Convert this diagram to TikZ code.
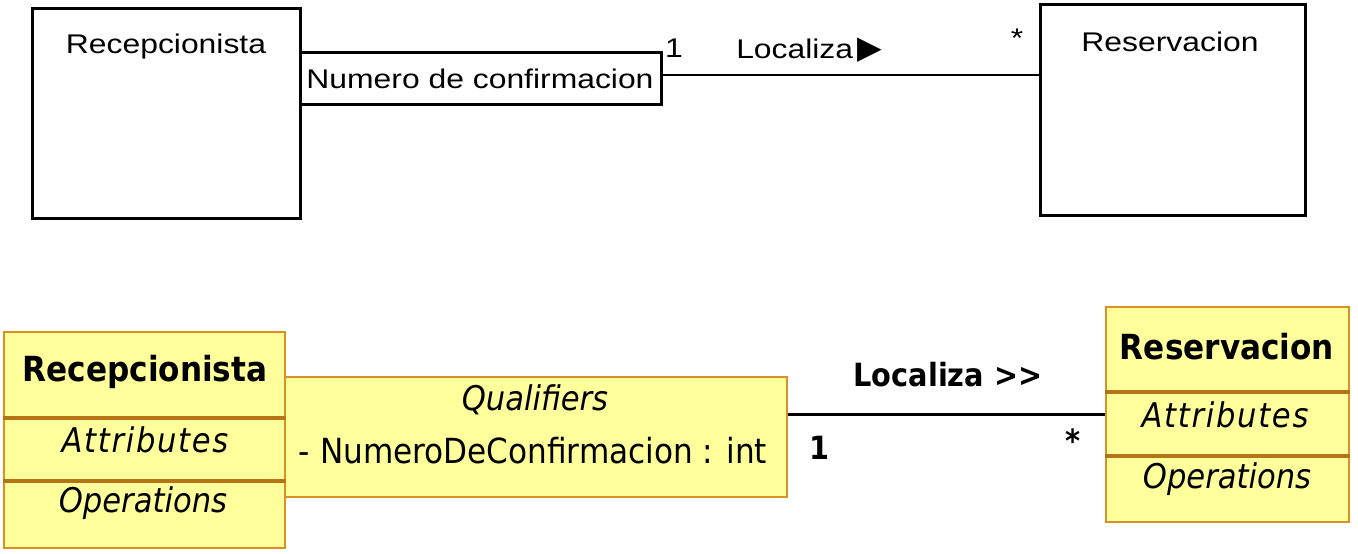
\documentclass[tikz,border=0pt]{standalone}
\usepackage{fontspec}
\usepackage{graphicx}
\setmainfont{Liberation Sans}
\newfontfamily\umlfont{DejaVu Sans Condensed}
\newfontfamily\umlspaced[LetterSpace=5]{DejaVu Sans Condensed}
\newfontfamily\symfont{DejaVu Sans}

\definecolor{umlfill}{RGB}{255,255,156}
\definecolor{umlline}{RGB}{217,145,38}
\definecolor{umldiv}{RGB}{181,117,20}

\newcommand{\scan}[1]{\scalebox{1.18}[1]{#1}}

\begin{document}
\begin{tikzpicture}[x=0.5pt,y=-0.5pt,
	oldbox/.style={draw=black,line width=1.5pt,inner sep=0pt},
	oldtext/.style={font=\fontsize{13.5}{16}\selectfont,inner sep=0pt},
	oldline/.style={draw=black,line width=1.3pt},
	umlbox/.style={draw=umlline,fill=umlfill,line width=0.8pt,inner sep=0pt},
	umldivider/.style={draw=umldiv,line width=1.6pt},
	umltitle/.style={font=\umlfont\bfseries\fontsize{17.3}{20}\selectfont,inner sep=0pt},
	umllabel/.style={font=\umlfont\bfseries\fontsize{16}{19}\selectfont,inner sep=0pt},
	umlitem/.style={font=\umlfont\itshape\fontsize{17}{20}\selectfont,inner sep=0pt},
	umlspace/.style={font=\umlspaced\itshape\fontsize{17}{20}\selectfont,inner sep=0pt},
	umltext/.style={font=\umlfont\fontsize{17.3}{20}\selectfont,inner sep=0pt},
	assoc/.style={draw=black,line width=1.4pt}]
	\useasboundingbox (0,0) rectangle (1358,553);

	% scanned notation
	\node[oldbox, minimum width=134pt, minimum height=105pt] (recA) at (166,113) {};
	\node[oldbox, minimum width=180.5pt, minimum height=26pt] (qualA) at (480.5,78) {};
	\node[oldtext] (qualAtext) at (480,79) {\scan{Numero de confirmacion}};
	\node[oldbox, minimum width=132.5pt, minimum height=105.5pt] (resA) at (1172.5,109.5) {};
	\node[oldtext] (recAname) at (166,47) {\scan{Recepcionista}};
	\node[oldtext] (resAname) at (1170,42) {\scan{Reservacion}};
	\draw[oldline] ([yshift=1.5pt]qualA.east) -- ([yshift=1.5pt]qualA.east -| resA.west);
	\node[oldtext] (oneA) at (674,48) {\scan{1}};
	\node[oldtext] (locA) at (809,50) {\scan{Localiza}\kern2pt{\symfont\fontsize{16}{16}\selectfont ▶}};
	\node[oldtext] (manyA) at (1017,38) {\scan{*}};

	% UML tool notation
	\node[umlbox, minimum width=251pt, minimum height=60pt] (qualB) at (536,437) {};
	\node[umlbox, minimum width=140.5pt, minimum height=108pt] (recB) at (144.5,440) {};
	\draw[umldivider] (recB.west |- 0,418) -- (recB.east |- 0,418);
	\draw[umldivider] (recB.west |- 0,481) -- (recB.east |- 0,481);
	\node[umltitle] (recBname) at (145,372) {Recepcionista};
	\node[umlspace] (recBattr) at (145,440) {Attributes};
	\node[umlitem] (recBops) at (143,503) {Operations};
	\node[umlitem] (qualBname) at (535,400) {Qualifiers};
	\node[umltext] (qualBattr) at (533,451) {- NumeroDeConfirmacion : int};

	\node[umlbox, minimum width=121.5pt, minimum height=107.5pt] (resB) at (1227.5,414.5) {};
	\draw[umldivider] (resB.west |- 0,392) -- (resB.east |- 0,392);
	\draw[umldivider] (resB.west |- 0,456) -- (resB.east |- 0,456);
	\node[umltitle] (resBname) at (1227,347) {Reservacion};
	\node[umlspace] (resBattr) at (1225,415) {Attributes};
	\node[umlitem] (resBops) at (1227,479) {Operations};

	\draw[assoc] (qualB.east |- resB.west) -- (resB.west);
	\node[umllabel] (locB) at (948,375) {Localiza >{}>};
	\node[umllabel] (oneB) at (820,448) {1};
	\node[umllabel] (manyB) at (1073,441) {*};
\end{tikzpicture}
\end{document}
